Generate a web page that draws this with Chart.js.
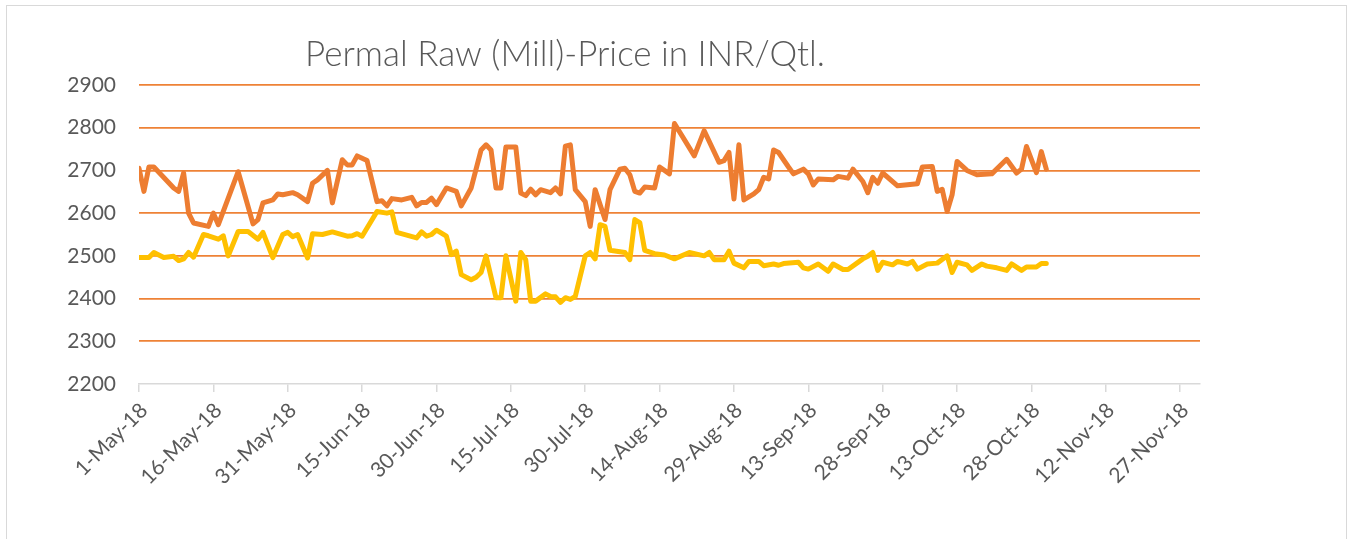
<!DOCTYPE html>
<html>
<head>
<meta charset="utf-8">
<script src="https://cdn.jsdelivr.net/npm/chart.js@4.4.1/dist/chart.umd.min.js"></script>
<style>
  html, body { margin: 0; padding: 0; background: #ffffff; }
  #wrap { position: relative; width: 1353px; height: 539px; overflow: hidden; }
  #frame { position: absolute; left: 6px; top: 5px; width: 1339px; height: 600px; border: 1px solid #d9d9d9; pointer-events: none; }
  canvas { position: absolute; left: 0; top: 0; }
</style>
</head>
<body>
<div id="wrap">
  <div id="frame"></div>
  <canvas id="c" width="1353" height="539"></canvas>
</div>
<script>
const chartTitle = "Permal Raw (Mill)-Price in INR/Qtl.";
const startDate = "2018-05-01";
const xTickStep = 15;
const xMaxDays = 214;
const yMin = 2200, yMax = 2900, yStep = 100;

const orangeDates = ["2018-05-01","2018-05-02","2018-05-03","2018-05-04","2018-05-08","2018-05-09","2018-05-10","2018-05-11","2018-05-12","2018-05-15","2018-05-16","2018-05-17","2018-05-21","2018-05-24","2018-05-25","2018-05-26","2018-05-28","2018-05-29","2018-05-30","2018-06-01","2018-06-02","2018-06-04","2018-06-05","2018-06-06","2018-06-08","2018-06-09","2018-06-11","2018-06-12","2018-06-13","2018-06-14","2018-06-16","2018-06-18","2018-06-19","2018-06-20","2018-06-21","2018-06-23","2018-06-25","2018-06-26","2018-06-27","2018-06-28","2018-06-29","2018-06-30","2018-07-02","2018-07-04","2018-07-05","2018-07-07","2018-07-09","2018-07-10","2018-07-11","2018-07-12","2018-07-13","2018-07-14","2018-07-15","2018-07-16","2018-07-17","2018-07-18","2018-07-19","2018-07-20","2018-07-21","2018-07-23","2018-07-24","2018-07-25","2018-07-26","2018-07-27","2018-07-28","2018-07-30","2018-07-31","2018-08-01","2018-08-03","2018-08-04","2018-08-06","2018-08-07","2018-08-08","2018-08-09","2018-08-10","2018-08-11","2018-08-13","2018-08-14","2018-08-16","2018-08-17","2018-08-21","2018-08-23","2018-08-26","2018-08-27","2018-08-28","2018-08-29","2018-08-30","2018-08-31","2018-09-02","2018-09-03","2018-09-04","2018-09-05","2018-09-06","2018-09-07","2018-09-09","2018-09-10","2018-09-12","2018-09-13","2018-09-14","2018-09-15","2018-09-18","2018-09-19","2018-09-21","2018-09-22","2018-09-24","2018-09-25","2018-09-26","2018-09-27","2018-09-28","2018-10-01","2018-10-05","2018-10-06","2018-10-08","2018-10-09","2018-10-10","2018-10-11","2018-10-12","2018-10-13","2018-10-15","2018-10-17","2018-10-20","2018-10-23","2018-10-25","2018-10-26","2018-10-27","2018-10-29","2018-10-30","2018-10-31"];
const orangeValues = [2705,2651,2708,2708,2659,2651,2694,2600,2577,2569,2600,2573,2697,2575,2585,2624,2631,2645,2643,2648,2643,2627,2670,2678,2700,2624,2725,2713,2713,2734,2723,2627,2629,2617,2634,2631,2637,2617,2625,2625,2635,2620,2659,2651,2617,2659,2748,2760,2748,2659,2659,2755,2755,2755,2647,2641,2656,2643,2655,2648,2659,2645,2757,2760,2655,2627,2569,2655,2585,2655,2703,2705,2690,2651,2647,2661,2659,2708,2692,2810,2734,2793,2719,2723,2742,2633,2760,2631,2645,2655,2684,2680,2748,2742,2708,2692,2703,2692,2666,2680,2678,2686,2682,2703,2674,2648,2684,2670,2694,2664,2669,2708,2709,2651,2656,2604,2643,2721,2700,2690,2692,2726,2694,2703,2756,2695,2744,2703];

const yellowDates = ["2018-05-01","2018-05-03","2018-05-04","2018-05-06","2018-05-08","2018-05-09","2018-05-10","2018-05-11","2018-05-12","2018-05-14","2018-05-15","2018-05-17","2018-05-18","2018-05-19","2018-05-21","2018-05-23","2018-05-25","2018-05-26","2018-05-28","2018-05-30","2018-05-31","2018-06-01","2018-06-02","2018-06-04","2018-06-05","2018-06-07","2018-06-09","2018-06-12","2018-06-13","2018-06-14","2018-06-15","2018-06-18","2018-06-20","2018-06-21","2018-06-22","2018-06-26","2018-06-27","2018-06-28","2018-06-29","2018-06-30","2018-07-02","2018-07-03","2018-07-04","2018-07-05","2018-07-07","2018-07-08","2018-07-09","2018-07-10","2018-07-12","2018-07-13","2018-07-14","2018-07-16","2018-07-17","2018-07-18","2018-07-19","2018-07-20","2018-07-22","2018-07-23","2018-07-24","2018-07-25","2018-07-26","2018-07-27","2018-07-28","2018-07-30","2018-07-31","2018-08-01","2018-08-02","2018-08-03","2018-08-04","2018-08-07","2018-08-08","2018-08-09","2018-08-10","2018-08-11","2018-08-13","2018-08-15","2018-08-17","2018-08-20","2018-08-23","2018-08-24","2018-08-25","2018-08-27","2018-08-28","2018-08-29","2018-08-31","2018-09-01","2018-09-03","2018-09-04","2018-09-06","2018-09-07","2018-09-08","2018-09-11","2018-09-12","2018-09-13","2018-09-15","2018-09-17","2018-09-18","2018-09-20","2018-09-21","2018-09-24","2018-09-25","2018-09-26","2018-09-27","2018-09-28","2018-09-30","2018-10-01","2018-10-03","2018-10-04","2018-10-05","2018-10-07","2018-10-09","2018-10-11","2018-10-12","2018-10-13","2018-10-15","2018-10-16","2018-10-18","2018-10-19","2018-10-21","2018-10-23","2018-10-24","2018-10-26","2018-10-27","2018-10-29","2018-10-30","2018-10-31"];
const yellowValues = [2496,2496,2508,2496,2499,2489,2493,2508,2497,2550,2547,2539,2547,2500,2557,2557,2539,2555,2496,2550,2555,2545,2550,2495,2552,2550,2556,2546,2547,2552,2546,2604,2600,2603,2555,2542,2556,2546,2550,2560,2546,2503,2511,2456,2444,2450,2461,2500,2402,2402,2500,2394,2508,2491,2394,2394,2411,2405,2404,2391,2402,2398,2405,2500,2508,2493,2573,2569,2513,2508,2491,2585,2578,2513,2505,2502,2493,2508,2500,2508,2491,2491,2511,2483,2472,2487,2487,2477,2481,2478,2482,2485,2472,2469,2481,2464,2481,2468,2468,2493,2499,2508,2466,2485,2479,2487,2481,2487,2469,2481,2483,2500,2461,2485,2479,2466,2481,2476,2472,2466,2481,2466,2474,2474,2482,2482];

const monthNames = ["Jan","Feb","Mar","Apr","May","Jun","Jul","Aug","Sep","Oct","Nov","Dec"];
const DAY = 86400000;
const t0 = Date.parse(startDate);
function toDays(s) { return Math.round((Date.parse(s) - t0) / DAY); }
function fmtDay(n) {
  const d = new Date(t0 + n * DAY);
  return d.getUTCDate() + "-" + monthNames[d.getUTCMonth()] + "-" + String(d.getUTCFullYear()).slice(2);
}
function pts(dates, vals) { return dates.map((s, i) => ({ x: toDays(s), y: vals[i] })); }

const ORANGE = "#ED7D31";
const YELLOW = "#FFC000";
const GRID = "#EE8236";
const AXIS = "#D9D9D9";
const TEXT = "#595959";

const titlePlugin = {
  id: "customTitle",
  afterDraw(chart) {
    const ctx = chart.ctx;
    ctx.save();
    ctx.font = "300 35px Lato";
    ctx.fillStyle = TEXT;
    ctx.textAlign = "center";
    ctx.textBaseline = "middle";
    ctx.fillText(chartTitle, 565, 55);
    ctx.restore();
  }
};

new Chart(document.getElementById("c"), {
  type: "line",
  data: {
    datasets: [
      { label: "Series 1", data: pts(orangeDates, orangeValues), borderColor: ORANGE, backgroundColor: ORANGE,
        borderWidth: 5, pointRadius: 0, tension: 0, borderJoinStyle: "round", borderCapStyle: "round" },
      { label: "Series 2", data: pts(yellowDates, yellowValues), borderColor: YELLOW, backgroundColor: YELLOW,
        borderWidth: 5, pointRadius: 0, tension: 0, borderJoinStyle: "round", borderCapStyle: "round" }
    ]
  },
  options: {
    responsive: false,
    animation: false,
    layout: { padding: { left: 0, right: 153, top: 85, bottom: 0 } },
    plugins: { legend: { display: false }, title: { display: false }, tooltip: { enabled: false } },
    scales: {
      x: {
        type: "linear",
        min: 0, max: xMaxDays,
        afterFit(s) { s.height = 539 - 384; },
        border: { display: true, color: AXIS, width: 1.5 },
        grid: { drawOnChartArea: false, drawTicks: true, tickLength: 8, color: AXIS, lineWidth: 1.5 },
        ticks: {
          stepSize: xTickStep, includeBounds: false, autoSkip: false,
          minRotation: 45, maxRotation: 45, padding: 6, labelOffset: 5,
          color: TEXT, font: { family: "Lato", size: 21 },
          callback: (v) => fmtDay(v)
        }
      },
      y: {
        min: yMin, max: yMax,
        afterFit(s) { s.width = 139; },
        border: { display: false },
        grid: { drawTicks: false, lineWidth: 1.8,
          color: (ctx) => (ctx.tick && ctx.tick.value === yMin) ? "rgba(0,0,0,0)" : GRID },
        ticks: { stepSize: yStep, padding: 23, color: TEXT, font: { family: "Lato", size: 21 },
          callback: (v) => String(v) }
      }
    }
  },
  plugins: [titlePlugin]
});
</script>
</body>
</html>
